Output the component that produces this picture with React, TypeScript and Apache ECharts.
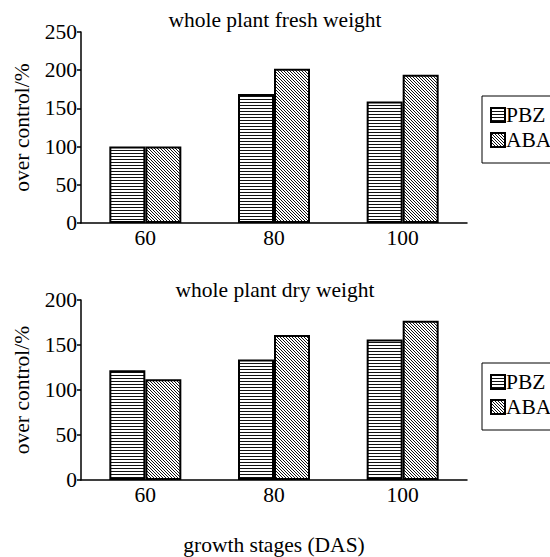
import React, { useEffect, useRef } from "react";
import * as echarts from "echarts";

const categories = ["60", "80", "100"];
const seriesNames = ["PBZ", "ABA"];
const freshPBZ = [100, 169, 159];
const freshABA = [100, 202, 194];
const dryPBZ = [122, 134, 156];
const dryABA = [112, 161, 177];
const titles = ["whole plant fresh weight", "whole plant dry weight"];
const yName = "over control/%";
const xName = "growth stages (DAS)";

const FONT = "'Liberation Serif', 'Times New Roman', serif";
const FS = 21.5;

function makePattern(kind: "h" | "d"): HTMLCanvasElement {
  const c = document.createElement("canvas");
  const ctx = c.getContext("2d")!;
  if (kind === "h") {
    c.width = 4;
    c.height = 3;
    ctx.fillStyle = "#fff";
    ctx.fillRect(0, 0, 4, 3);
    ctx.fillStyle = "#111";
    ctx.fillRect(0, 0, 4, 1);
  } else {
    c.width = 3;
    c.height = 3;
    ctx.fillStyle = "#fff";
    ctx.fillRect(0, 0, 3, 3);
    ctx.fillStyle = "#111";
    for (let i = 0; i < 3; i++) ctx.fillRect(i, i, 1, 1);
  }
  return c;
}

export default function App() {
  const ref = useRef<HTMLDivElement>(null);
  useEffect(() => {
    if (!ref.current) return;
    document.body.style.margin = "0";
    const chart = echarts.init(ref.current, undefined, { renderer: "svg" });
    const hPat = { image: makePattern("h"), repeat: "repeat" };
    const dPat = { image: makePattern("d"), repeat: "repeat" };
    const grids = [
      { left: 81, right: 83, top: 32, height: 191 },
      { left: 81, right: 83, top: 300, height: 191 },
    ];
    const axisText = { color: "#000", fontFamily: FONT, fontSize: FS };
    const xAxes = [0, 1].map((i) => ({
      type: "category",
      gridIndex: i,
      data: categories,
      axisLine: { lineStyle: { color: "#000", width: 1.5 } },
      axisTick: { inside: true, length: 4, lineStyle: { color: "#000", width: 1.5 } },
      axisLabel: { ...axisText, margin: 4 },
      ...(i === 1
        ? {
            name: xName,
            nameLocation: "middle",
            nameGap: 54,
            nameTextStyle: { ...axisText },
          }
        : {}),
    }));
    const yAxes = [0, 1].map((i) => ({
      type: "value",
      gridIndex: i,
      min: 0,
      max: i === 0 ? 250 : 200,
      interval: 50,
      name: yName,
      nameLocation: "middle",
      nameGap: 48,
      nameTextStyle: { ...axisText },
      splitLine: { show: false },
      axisLine: { show: true, lineStyle: { color: "#000", width: 1.5 } },
      axisTick: { show: true, length: 4, lineStyle: { color: "#000", width: 1.5 } },
      axisLabel: { ...axisText, margin: 4 },
    }));
    const mk = (name: string, data: number[], idx: number, pat: any) => ({
      type: "bar",
      name,
      data,
      xAxisIndex: idx,
      yAxisIndex: idx,
      barWidth: 36,
      barGap: "0%",
      itemStyle: { color: pat, borderColor: "#000", borderWidth: 2 },
    });
    const legendBase = {
      orient: "vertical",
      left: 482,
      data: seriesNames,
      itemWidth: 14,
      itemHeight: 14,
      itemGap: 3,
      padding: [8, 6, 12, 8],
      borderColor: "#000",
      borderWidth: 1,
      borderRadius: 0,
      icon: "rect",
      textStyle: { color: "#000", fontFamily: FONT, fontSize: FS, padding: [0, 0, 0, -4] },
    };
    chart.setOption({
      animation: false,
      backgroundColor: "#fff",
      title: [
        { text: titles[0], left: "center", top: 9, padding: 0, textStyle: { ...axisText, fontWeight: "normal" } },
        { text: titles[1], left: "center", top: 279, padding: 0, textStyle: { ...axisText, fontWeight: "normal" } },
      ],
      legend: [
        { ...legendBase, top: 96 },
        { ...legendBase, top: 363 },
      ],
      grid: grids,
      xAxis: xAxes,
      yAxis: yAxes,
      series: [
        mk(seriesNames[0], freshPBZ, 0, hPat),
        mk(seriesNames[1], freshABA, 0, dPat),
        mk(seriesNames[0], dryPBZ, 1, hPat),
        mk(seriesNames[1], dryABA, 1, dPat),
      ],
    });
    return () => chart.dispose();
  }, []);
  return <div ref={ref} style={{ width: 550, height: 557 }} />;
}
